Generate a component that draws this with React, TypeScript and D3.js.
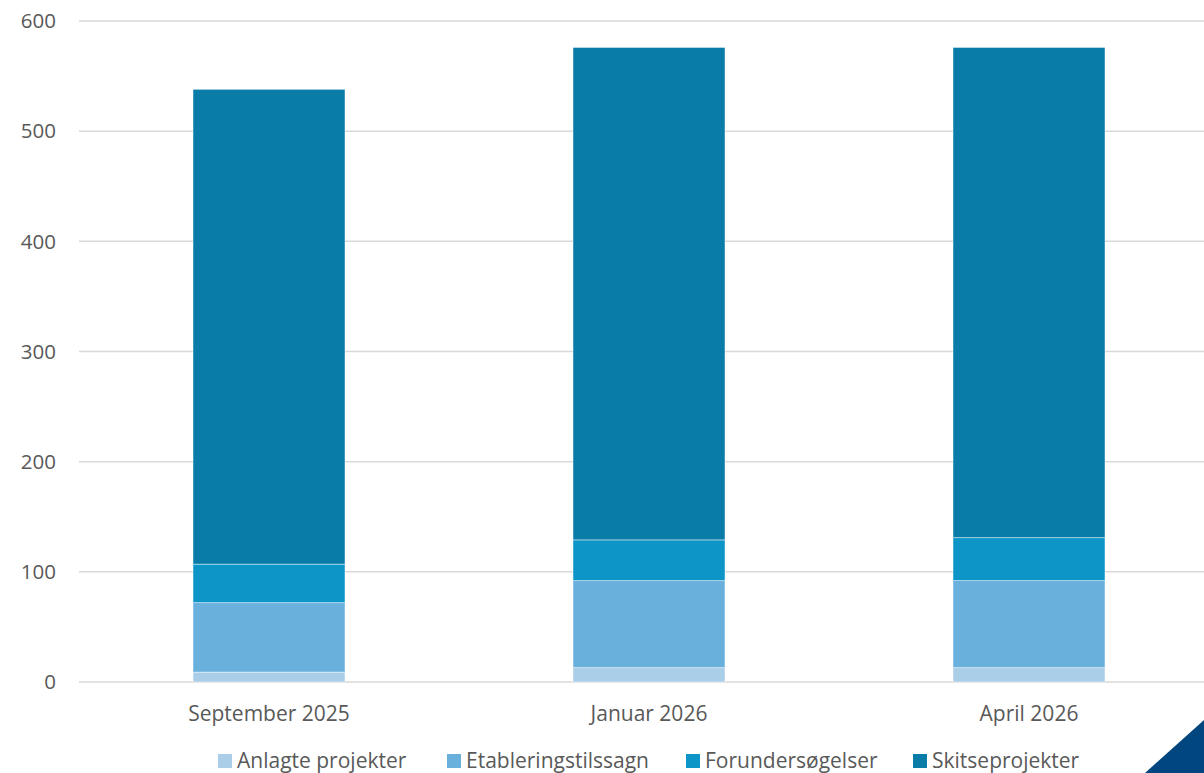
import React, { useEffect, useRef } from 'react';
import * as d3 from 'd3';

const categories = ['September 2025', 'Januar 2026', 'April 2026'];
const seriesNames = ['Anlagte projekter', 'Etableringstilssagn', 'Forundersøgelser', 'Skitseprojekter'];
const anlagte = [9, 13, 13];
const etablering = [63, 79, 79];
const forunders = [35, 37, 39];
const skitse = [431, 447, 445];
const yTicks = [0, 100, 200, 300, 400, 500, 600];

const colors = ['#ABCEE8', '#6AB0DD', '#0E95C8', '#0A7CA8'];

const App = () => {
  const svgRef = useRef<SVGSVGElement>(null);

  useEffect(() => {
    const svg = d3.select(svgRef.current);
    svg.selectAll('*').remove();

    const width = 1204;
    const height = 773;
    const left = 79;
    const top = 21;
    const bottom = 682;
    const font = '"Open Sans", sans-serif';
    const textColor = '#595959';

    svg.attr('width', width).attr('height', height);

    const rows = categories.map((c, i) => ({
      cat: c,
      [seriesNames[0]]: anlagte[i],
      [seriesNames[1]]: etablering[i],
      [seriesNames[2]]: forunders[i],
      [seriesNames[3]]: skitse[i],
    }));

    const stack = d3.stack<any>().keys(seriesNames);
    const layers = stack(rows);

    const x = d3.scaleBand()
      .domain(categories)
      .range([left, left + 1140])
      .paddingInner(0.6)
      .paddingOuter(0.3);

    const y = d3.scaleLinear().domain([0, 600]).range([bottom, top]);

    // gridlines
    svg.append('g')
      .selectAll('line')
      .data(yTicks)
      .enter()
      .append('line')
      .attr('x1', left)
      .attr('x2', width)
      .attr('y1', d => y(d))
      .attr('y2', d => y(d))
      .style('stroke', '#D9D9D9')
      .style('stroke-width', 1.5);

    // y labels
    svg.append('g')
      .selectAll('text')
      .data(yTicks)
      .enter()
      .append('text')
      .attr('x', 56)
      .attr('y', d => y(d))
      .attr('dy', '0.35em')
      .attr('text-anchor', 'end')
      .style('font-family', font)
      .style('font-size', '20.5px')
      .style('fill', textColor)
      .text(d => d);

    // bars
    svg.append('g')
      .selectAll('g')
      .data(layers)
      .enter()
      .append('g')
      .style('fill', (_, i) => colors[i])
      .selectAll('rect')
      .data(d => d)
      .enter()
      .append('rect')
      .attr('x', d => x(d.data.cat)!)
      .attr('width', x.bandwidth())
      .attr('y', d => y(d[1]))
      .attr('height', d => y(d[0]) - y(d[1]))
      .style('stroke', '#ffffff')
      .style('stroke-opacity', 0.6)
      .style('stroke-width', 0.75);

    // x labels
    svg.append('g')
      .selectAll('text')
      .data(categories)
      .enter()
      .append('text')
      .attr('x', d => x(d)! + x.bandwidth() / 2)
      .attr('y', 714)
      .attr('dy', '0.35em')
      .attr('text-anchor', 'middle')
      .style('font-family', font)
      .style('font-size', '21px')
      .style('fill', textColor)
      .text(d => d);

    // legend
    const legendX = [218, 447, 686, 913];
    const legend = svg.append('g')
      .selectAll('g')
      .data(seriesNames)
      .enter()
      .append('g')
      .attr('transform', (_, i) => `translate(${legendX[i]},761)`);

    legend.append('rect')
      .attr('x', 0)
      .attr('y', -7)
      .attr('width', 14)
      .attr('height', 14)
      .style('fill', (_, i) => colors[i]);

    legend.append('text')
      .attr('x', 19)
      .attr('y', 0)
      .attr('dy', '0.35em')
      .style('font-family', font)
      .style('font-size', '21px')
      .style('fill', textColor)
      .text(d => d);

    // corner decoration
    svg.append('path')
      .attr('d', `M1145,${height} L${width},720 L${width},${height} Z`)
      .style('fill', '#01467E');
  }, []);

  return (
    <div style={{ position: 'absolute', left: 0, top: 0 }}>
      <svg ref={svgRef} style={{ display: 'block' }}></svg>
    </div>
  );
};

export default App;
